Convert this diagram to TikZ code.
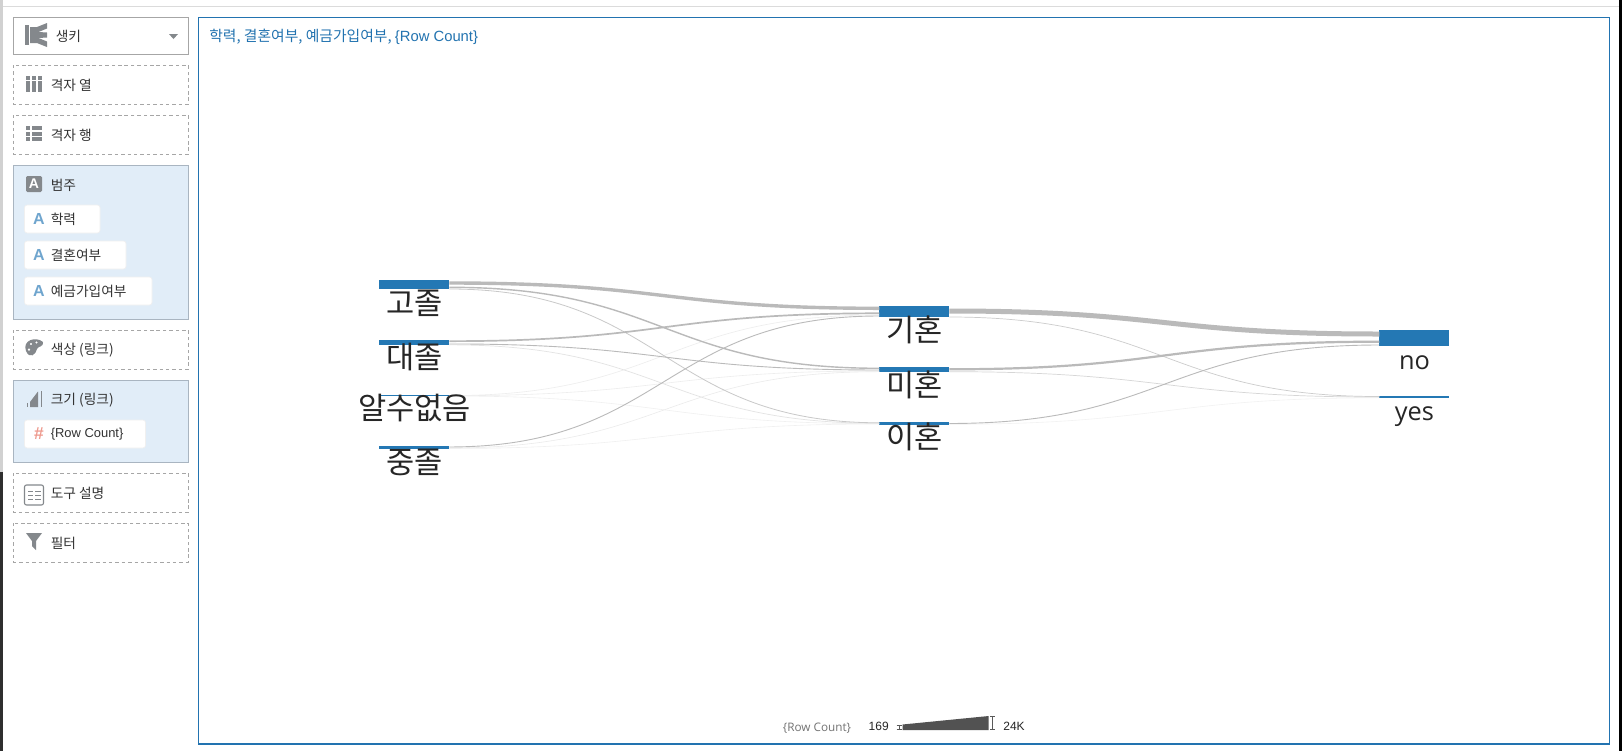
\documentclass[tikz,border=0pt]{standalone}
\usepackage{fontspec}
\setmainfont{Liberation Sans}
\newfontfamily\krfont{Noto Sans CJK KR}
\newfontfamily\labelfont{Open Sans}
\definecolor{barblue}{HTML}{2478B4}
\definecolor{framblue}{HTML}{2273B0}
\definecolor{panelfill}{HTML}{E1EDF8}
\definecolor{panelline}{HTML}{A9B5C1}
\definecolor{icongray}{HTML}{84888C}
\definecolor{sidetext}{HTML}{333333}
\definecolor{chipblue}{HTML}{6FA5CE}
\definecolor{chipsalmon}{HTML}{EE9A8E}
\tikzset{
	dashbox/.style={draw=black!35,dashed,line width=0.6pt,dash pattern=on 2.6pt off 2.2pt},
	panelbox/.style={draw=panelline,fill=panelfill,line width=0.7pt},
	chipbox/.style={draw=black!6,fill=white,rounded corners=2pt,line width=0.5pt},
	sidelabel/.style={anchor=west,inner sep=0pt,font=\krfont\fontsize{10.3}{10.3}\selectfont,text=sidetext},
	sankeybar/.style={fill=barblue,inner sep=0pt,outer sep=0pt,minimum width=52.5pt},
	sankeyname/.style={inner sep=0pt,font=\krfont\fontsize{23}{23}\selectfont,text=black!85},
	latinname/.style={inner sep=0pt,font=\labelfont\fontsize{19}{19}\selectfont,text=black!85},
	chipletter/.style={inner sep=0pt,font=\fontsize{12}{12}\selectfont\bfseries,text=chipblue},
	iconfill/.style={fill=icongray,draw=none}
}
\begin{document}
\begin{tikzpicture}[x=0.75pt,y=-0.75pt]
	\useasboundingbox (0,0) rectangle (1622,751);
	\fill[white] (0,0) rectangle (1622,751);
	% window edges
	\fill[black!18] (0,0) rectangle (2.5,472);
	\fill[black!82] (0,472) rectangle (3,751);
	\fill[black] (1619,0) rectangle (1622,751);
	\draw[black!14,line width=0.7pt] (3,6.5)--(1619,6.5);

	% side panel
	\draw[draw=black!35,line width=0.7pt] (13.5,17.5) rectangle (188,54.5);
	\fill[icongray] (25,25) rectangle (29,45);
	\fill[icongray] (30,27)--(37,27)--(47,23)--(47,28.5)--(38.5,32)--(47,32.5)--(47,37.5)--(38.5,38)--(47,41.5)--(47,47)--(37,43)--(30,43)--cycle;
	\node[sidelabel] (charttype) at (55.5,36.5) {생키};
	\fill[icongray] (169,34)--(178,34)--(173.5,39)--cycle;

	\draw[dashbox] (13.5,65) rectangle (188,104.5);
	\foreach \colx in {26,32.2,38.4} {
		\fill[iconfill] (\colx,76) rectangle +(3.8,3.6);
		\fill[iconfill] (\colx,81) rectangle +(3.8,10.7);
	}
	\node[sidelabel] (gridcols) at (50.5,85.5) {격자 열};

	\draw[dashbox] (13.5,115) rectangle (188,154.5);
	\foreach \rowy in {126,131.5,137} {
		\fill[iconfill] (26,\rowy) rectangle +(4,4.4);
		\fill[iconfill] (31.5,\rowy) rectangle +(10.8,4.4);
	}
	\node[sidelabel] (gridrows) at (50.5,135.5) {격자 행};

	\draw[panelbox] (13.5,165) rectangle (188,319);
	\node[fill=icongray,text=white,inner sep=0pt,minimum size=12pt,rounded corners=1pt,font=\fontsize{10.5}{10.5}\selectfont\bfseries] (categoryicon) at (34,184) {A};
	\node[sidelabel] (category) at (50.5,185) {범주};
	\draw[chipbox] (24.5,205) rectangle (100,233);
	\node[chipletter] (chipa) at (39,219) {A};
	\node[sidelabel] (education) at (50.5,219) {학력};
	\draw[chipbox] (24.5,241) rectangle (126,269);
	\node[chipletter] (chipb) at (39,255) {A};
	\node[sidelabel] (marital) at (50.5,255) {결혼여부};
	\draw[chipbox] (24.5,277) rectangle (152,305);
	\node[chipletter] (chipc) at (39,291) {A};
	\node[sidelabel] (deposit) at (50.5,291) {예금가입여부};

	\draw[dashbox] (13.5,330) rectangle (188,369.5);
	\fill[iconfill,even odd rule] (26,351) .. controls (22,340) and (36,336) .. (43,342) .. controls (44,347) and (38,346) .. (37,349) .. controls (36,354) and (30,360) .. (26,351)
		(31,344) circle (1.4) (36.5,342.5) circle (1.4) (29,349.5) circle (1.5);
	\node[sidelabel] (linkcolor) at (50.5,350.5) {색상 (링크)};

	\draw[panelbox] (13.5,380) rectangle (188,462.5);
	\fill[iconfill] (30,407)--(30,402)--(38,391.5)--(38,407)--cycle;
	\draw[icongray,line width=0.4pt] (41.5,391)--(41.5,407);
	\draw[icongray,line width=0.4pt] (27,403)--(27,407);
	\node[sidelabel] (linksize) at (50.5,400.5) {크기 (링크)};
	\draw[chipbox] (24.5,420) rectangle (145.5,448);
	\node[inner sep=0pt,font=\fontsize{13}{13}\selectfont\bfseries,text=chipsalmon] (chiphash) at (39,434) {\#};
	\node[sidelabel,font=\fontsize{9.7}{9.7}\selectfont] (rowcount) at (50.5,434.5) {\{Row Count\}};

	\draw[dashbox] (13.5,473) rectangle (188,512.5);
	\draw[icongray,rounded corners=1.5pt,line width=0.8pt] (24.5,485) rectangle (43.5,505);
	\foreach \liney in {491,495,499} {
		\draw[icongray,line width=0.7pt] (28,\liney)--(33,\liney);
		\draw[icongray,line width=0.7pt] (35,\liney)--(40.5,\liney);
	}
	\node[sidelabel] (tooltip) at (50.5,493.5) {도구 설명};

	\draw[dashbox] (13.5,523) rectangle (188,562);
	\fill[iconfill] (26,533)--(42,533)--(36,541)--(36,550)--(32,546)--(32,541)--cycle;
	\node[sidelabel] (filter) at (50.5,543.5) {필터};

	% chart frame
	\draw[framblue,line width=0.8pt] (198.5,17.5) rectangle (1609.5,744);
	\node[anchor=west,inner sep=0pt,text=framblue,font=\krfont\fontsize{11.1}{11.1}\selectfont] (charttitle) at (209,36.5) {학력, 결혼여부, 예금가입여부, {\rmfamily\{Row Count\}}};

	% bars
	\node[sankeybar,minimum height=6.75pt] (highschool) at (414.3,284.5) {};
	\node[sankeybar,minimum height=3.97pt] (college) at (414.3,342.3) {};
	\node[sankeybar,minimum height=0.75pt] (unknown) at (414.3,395.5) {};
	\node[sankeybar,minimum height=2pt] (middle) at (414.3,447.3) {};
	\node[sankeybar,minimum height=8.25pt] (married) at (914.3,311.5) {};
	\node[sankeybar,minimum height=3.4pt] (single) at (914.3,369.75) {};
	\node[sankeybar,minimum height=1.9pt] (divorced) at (914.3,423.75) {};
	\node[sankeybar,minimum height=12pt] (no) at (1414.3,338) {};
	\node[sankeybar,minimum height=1.7pt] (yes) at (1414.3,397.15) {};

	% links: from, offset, to, offset, width, grey
	\foreach \from/\fy/\to/\ty/\wd/\shade in {
		unknown/0.6/married/9/0.6/7,
		unknown/0.7/single/3.5/0.6/7,
		unknown/1/divorced/1.2/0.6/6,
		college/5.2/divorced/0.8/0.7/11,
		middle/2/single/4.2/0.6/8,
		middle/2.5/divorced/1.5/0.6/6,
		divorced/1.8/yes/1.8/0.6/5,
		married/11/yes/0.5/0.7/20,
		single/4.2/yes/1/0.7/16,
		highschool/9/divorced/0.3/0.8/21,
		college/4.3/single/2.5/0.9/27,
		middle/1/married/10/0.9/27,
		divorced/1/no/15/0.9/27,
		highschool/7.3/single/0.8/1.4/27,
		college/1.5/married/7.3/1.7/27,
		single/1.8/no/11.7/2.2/27,
		highschool/3/married/2.3/3.4/27,
		married/5/no/4/5/27} {
		\draw[black!\shade,line width=\wd*0.75pt] ([yshift=-\fy*0.75pt]\from.north east) .. controls +(215,0) and +(-215,0) .. ([yshift=-\ty*0.75pt]\to.north west);
	}

	% bar names
	\node[sankeyname] (highschoolname) at (414.5,303) {고졸};
	\node[sankeyname] (collegename) at (414.5,357) {대졸};
	\node[sankeyname] (unknownname) at (414.5,408) {알수없음};
	\node[sankeyname] (middlename) at (414.5,462) {중졸};
	\node[sankeyname] (marriedname) at (914.5,330) {기혼};
	\node[sankeyname] (singlename) at (914.5,385) {미혼};
	\node[sankeyname] (divorcedname) at (914.5,437) {이혼};
	\node[latinname] (noname) at (1414.5,363) {no};
	\node[latinname] (yesname) at (1414.5,417) {yes};

	% legend
	\node[inner sep=0pt,text=black!55,font=\labelfont\fontsize{8.8}{8.8}\selectfont] (legendname) at (817,728) {\{Row Count\}};
	\node[inner sep=0pt,text=black!85,font=\fontsize{9}{9}\selectfont] (legendmin) at (878.7,726) {169};
	\fill[black!68] (902.5,724.5)--(988.7,716)--(988.7,730)--(902.5,730)--cycle;
	\draw[black!65,line width=0.5pt] (899,725.5)--(899,729.5) (896.5,725.5)--(901.5,725.5) (896.5,729.5)--(901.5,729.5);
	\draw[black!65,line width=0.5pt] (992.5,716.5)--(992.5,729.5) (990,716.5)--(995,716.5) (990,729.5)--(995,729.5);
	\node[inner sep=0pt,text=black!85,font=\fontsize{9}{9}\selectfont] (legendmax) at (1014,726) {24K};
\end{tikzpicture}
\end{document}
